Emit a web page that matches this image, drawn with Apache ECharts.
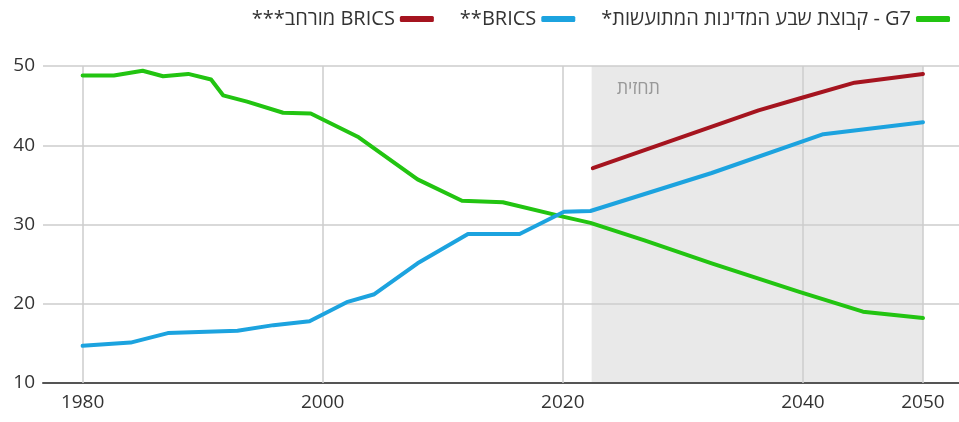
<!DOCTYPE html>
<html>
<head>
<meta charset="utf-8">
<script src="https://cdn.jsdelivr.net/npm/echarts@6/dist/echarts.min.js"></script>
<style>
  html, body { margin: 0; padding: 0; background: #fff; }
  #chart { width: 959px; height: 422px; }
</style>
</head>
<body>
<div id="chart"></div>
<script>
// series names (RTL embedding so the Hebrew reads right to left)
var nameG7 = '\u202BG7 - קבוצת שבע המדינות המתועשות*\u202C';
var nameBrics = '\u202BBRICS**\u202C';
var nameBricsPlus = '\u202BBRICS מורחב***\u202C';

// G7
var g7Years = [1980, 1982.6, 1985, 1986.7, 1988.8, 1990.7, 1991.7, 1993.7, 1996.7, 1999, 2003, 2007.9, 2011.6, 2015, 2020, 2022.3, 2026.8, 2032.4, 2039.7, 2045, 2050];
var g7Values = [48.8, 48.8, 49.4, 48.7, 49.0, 48.3, 46.3, 45.5, 44.1, 44.0, 41.0, 35.7, 33.0, 32.8, 31.0, 30.2, 28.0, 25.1, 21.5, 19.0, 18.2];

// BRICS
var bricsYears = [1980, 1984, 1987.1, 1992.9, 1995.9, 1998.9, 2002, 2004.3, 2007.9, 2012.1, 2016.4, 2020.1, 2022.3, 2032.4, 2041.7, 2050];
var bricsValues = [14.7, 15.1, 16.3, 16.6, 17.3, 17.8, 20.2, 21.2, 25.1, 28.8, 28.8, 31.6, 31.7, 36.5, 41.4, 42.9];

// expanded BRICS (forecast only)
var bricsPlusYears = [2022.5, 2036.3, 2039.7, 2044.3, 2050];
var bricsPlusValues = [37.1, 44.4, 45.9, 47.9, 49.0];

var xTickLabels = [1980, 2000, 2020, 2040, 2050];
var forecastStart = 2022.4;
var forecastEnd = 2050;

function pairs(xs, ys) {
    var out = [];
    for (var i = 0; i < xs.length; i++) {
        out.push([xs[i], ys[i]]);
    }
    return out;
}

var myChart = echarts.init(document.getElementById('chart'));

var option = {
    backgroundColor: '#fff',
    animation: false,
    textStyle: { fontFamily: '"Open Sans", "DejaVu Sans", sans-serif' },
    legend: {
        data: [nameBricsPlus, nameBrics, nameG7],
        right: 4,
        top: 4,
        align: 'right',
        icon: 'roundRect',
        itemWidth: 34,
        itemHeight: 6,
        itemGap: 26,
        textStyle: { fontSize: 20, color: '#333' }
    },
    grid: {
        left: 43,
        right: 0,
        top: 66,
        bottom: 39
    },
    xAxis: {
        type: 'value',
        min: 1976.7,
        max: 2053,
        axisLine: { lineStyle: { color: '#555', width: 2 } },
        axisTick: { show: false },
        splitLine: { show: false },
        axisLabel: {
            customValues: xTickLabels,
            formatter: function (v) { return String(v); },
            fontSize: 19,
            color: '#333',
            margin: 10
        }
    },
    yAxis: {
        type: 'value',
        min: 10,
        max: 50,
        interval: 10,
        axisLine: { show: false },
        axisTick: { show: false },
        splitLine: { lineStyle: { color: '#cccccc', width: 1.5 } },
        axisLabel: { fontSize: 19, color: '#333', margin: 8 }
    },
    series: [
        {
            type: 'line',
            data: [],
            silent: true,
            markArea: {
                silent: true,
                z: -1,
                itemStyle: { color: '#e9e9e9' },
                label: {
                    show: true,
                    position: 'insideTopLeft',
                    color: '#999',
                    fontSize: 18,
                    offset: [20, 9]
                },
                data: [[{ name: 'תחזית', xAxis: forecastStart }, { xAxis: forecastEnd }]]
            },
            markLine: {
                silent: true,
                z: 1,
                symbol: 'none',
                label: { show: false },
                lineStyle: { color: '#cccccc', width: 1.5, type: 'solid' },
                data: xTickLabels.map(function (y) { return { xAxis: y }; })
            }
        },
        {
            name: nameG7,
            type: 'line',
            data: pairs(g7Years, g7Values),
            showSymbol: false,
            itemStyle: { color: '#22c411' },
            lineStyle: { width: 4, color: '#22c411', join: 'round', cap: 'round' }
        },
        {
            name: nameBrics,
            type: 'line',
            data: pairs(bricsYears, bricsValues),
            showSymbol: false,
            itemStyle: { color: '#1ca3df' },
            lineStyle: { width: 4, color: '#1ca3df', join: 'round', cap: 'round' }
        },
        {
            name: nameBricsPlus,
            type: 'line',
            data: pairs(bricsPlusYears, bricsPlusValues),
            showSymbol: false,
            itemStyle: { color: '#a5141f' },
            lineStyle: { width: 4, color: '#a5141f', join: 'round', cap: 'round' }
        }
    ]
};

myChart.setOption(option);
</script>
</body>
</html>
